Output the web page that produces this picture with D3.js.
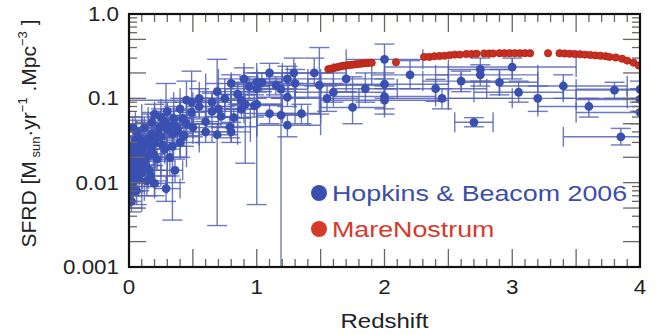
<!DOCTYPE html>
<html><head><meta charset="utf-8">
<script src="https://cdn.jsdelivr.net/npm/d3@7"></script>
<style>body{margin:0;background:#fff} svg{display:block}</style>
</head><body>
<svg id="c" width="670" height="334"></svg>
<script>
// ---------- data ----------
const xTickValues = [0, 1, 2, 3, 4];
const xTickLabels = ["0", "1", "2", "3", "4"];
const yTickValues = [0.001, 0.01, 0.1, 1];
const yTickLabels = ["0.001", "0.01", "0.1", "1.0"];
const legendLabels = ["Hopkins & Beacom 2006", "MareNostrum"];
const xTitle = "Redshift";

// MareNostrum simulation
const mareZ = [1.56,1.58,1.60,1.62,1.64,1.66,1.68,1.70,1.72,1.74,1.76,1.78,1.80,1.82,1.84,1.86,1.88,1.90,
  2.09,2.31,2.35,2.39,2.43,2.47,2.51,2.55,2.59,2.64,2.68,2.72,2.78,2.82,2.85,2.90,2.94,2.98,3.02,3.06,3.10,3.14,
  3.28,3.37,3.41,3.45,3.49,3.53,3.57,3.61,3.65,3.69,3.73,3.76,3.81,3.86,3.90,3.95,3.99];
const mareSfrd = [0.222,0.225,0.228,0.232,0.236,0.240,0.243,0.245,0.248,0.250,0.252,0.254,0.256,0.258,0.260,0.262,0.264,0.265,
  0.268,0.310,0.310,0.315,0.318,0.320,0.325,0.330,0.330,0.335,0.335,0.338,0.340,0.340,0.340,0.343,0.343,0.343,0.343,0.343,0.343,0.343,
  0.343,0.343,0.340,0.338,0.335,0.333,0.330,0.327,0.323,0.320,0.316,0.310,0.305,0.295,0.280,0.265,0.245];

// Hopkins & Beacom 2006 compilation: [z, sfrd, zMin, zMax, sfrdMin, sfrdMax]
const hbPoints = [
  [0.01,0.012,0.00,0.03,0.009,0.016],[0.02,0.016,0.00,0.05,0.012,0.021],[0.02,0.009,0.00,0.04,0.007,0.012],
  [0.03,0.020,0.00,0.10,0.015,0.026],[0.01,0.014,0.00,0.02,0.010,0.019],[0.03,0.010,0.00,0.06,0.007,0.014],
  [0.04,0.013,0.00,0.08,0.010,0.017],[0.05,0.017,0.00,0.10,0.013,0.022],[0.025,0.025,0.00,0.05,0.020,0.030],
  [0.015,0.0075,0.00,0.03,0.005,0.011],[0.05,0.011,0.00,0.10,0.008,0.015],[0.02,0.006,0.00,0.10,0.0045,0.008],
  [0.01,0.019,0.00,0.04,0.008,0.030],[0.04,0.028,0.00,0.12,0.020,0.036],[0.06,0.022,0.00,0.15,0.016,0.030],
  [0.07,0.019,0.02,0.12,0.014,0.025],[0.08,0.015,0.03,0.15,0.011,0.020],[0.10,0.024,0.05,0.15,0.019,0.030],
  [0.12,0.018,0.05,0.20,0.014,0.023],[0.10,0.013,0.00,0.20,0.009,0.018],[0.14,0.028,0.08,0.20,0.022,0.036],
  [0.15,0.021,0.10,0.20,0.016,0.027],[0.15,0.033,0.05,0.25,0.025,0.042],[0.14,0.0105,0.00,0.30,0.007,0.015],
  [0.20,0.0098,0.10,0.30,0.007,0.014],[0.12,0.030,0.05,0.20,0.024,0.037],[0.17,0.025,0.10,0.25,0.019,0.032],
  [0.18,0.038,0.10,0.30,0.030,0.048],[0.20,0.029,0.10,0.30,0.022,0.038],[0.22,0.019,0.15,0.30,0.014,0.025],
  [0.25,0.035,0.20,0.30,0.027,0.045],[0.24,0.045,0.10,0.35,0.035,0.058],[0.34,0.038,0.20,0.50,0.028,0.050],
  [0.38,0.041,0.30,0.45,0.032,0.052],[0.34,0.027,0.20,0.45,0.0036,0.040],[0.36,0.014,0.30,0.42,0.010,0.019],
  [0.29,0.0085,0.20,0.40,0.006,0.012],[0.22,0.037,0.15,0.30,0.029,0.047],[0.30,0.043,0.20,0.40,0.034,0.055],
  [0.38,0.044,0.30,0.50,0.035,0.056],[0.28,0.052,0.20,0.35,0.040,0.065],[0.25,0.060,0.15,0.35,0.045,0.075],
  [0.30,0.070,0.20,0.40,0.055,0.090],[0.08,0.034,0.00,0.20,0.026,0.045],[0.12,0.045,0.00,0.25,0.033,0.060],
  [0.18,0.052,0.05,0.30,0.040,0.068],[0.06,0.040,0.00,0.15,0.030,0.055],[0.28,0.025,0.15,0.40,0.018,0.034],
  [0.40,0.030,0.25,0.55,0.020,0.045],[0.32,0.020,0.20,0.45,0.012,0.030],[0.16,0.014,0.05,0.30,0.010,0.020],
  [0.05,0.032,0.00,0.10,0.025,0.040],[0.09,0.027,0.02,0.18,0.020,0.034],[0.11,0.021,0.05,0.20,0.016,0.028],
  [0.13,0.016,0.05,0.25,0.011,0.022],[0.19,0.022,0.10,0.28,0.016,0.030],[0.21,0.033,0.12,0.30,0.025,0.044],
  [0.26,0.028,0.18,0.35,0.020,0.038],[0.08,0.011,0.00,0.15,0.008,0.015],[0.06,0.008,0.00,0.12,0.0055,0.011],
  [0.17,0.012,0.10,0.25,0.009,0.016],[0.35,0.048,0.25,0.45,0.036,0.062],[0.43,0.036,0.30,0.55,0.027,0.048],
  [0.03,0.045,0.00,0.10,0.035,0.060],[0.20,0.065,0.10,0.30,0.050,0.085],
  [0.45,0.095,0.00,0.90,0.060,0.160],[0.29,0.050,0.15,0.45,0.025,0.150],[0.35,0.058,0.20,0.50,0.040,0.080],
  [0.49,0.068,0.40,0.60,0.050,0.090],[0.60,0.053,0.50,0.70,0.040,0.070],[0.60,0.040,0.40,0.80,0.030,0.050],
  [0.69,0.037,0.55,0.85,0.0031,0.050],[0.72,0.061,0.60,0.85,0.045,0.080],[0.82,0.059,0.70,0.95,0.045,0.075],
  [0.79,0.046,0.60,1.00,0.034,0.060],[0.80,0.040,0.65,0.95,0.030,0.052],[0.45,0.050,0.30,0.60,0.040,0.063],
  [0.42,0.058,0.35,0.50,0.045,0.072],[0.50,0.045,0.40,0.60,0.035,0.057],[0.55,0.080,0.45,0.65,0.060,0.100],
  [0.55,0.100,0.40,0.70,0.080,0.130],[0.65,0.090,0.50,0.80,0.070,0.115],[0.70,0.075,0.60,0.80,0.060,0.095],
  [0.75,0.100,0.60,0.90,0.080,0.130],[0.85,0.112,0.70,1.00,0.085,0.145],[0.88,0.095,0.75,1.00,0.075,0.120],
  [0.88,0.074,0.75,1.00,0.058,0.095],[0.91,0.085,0.80,1.00,0.017,0.110],[0.49,0.090,0.35,0.65,0.050,0.210],
  [0.69,0.120,0.55,0.85,0.070,0.290],[0.80,0.150,0.60,1.00,0.110,0.190],[0.90,0.170,0.70,1.20,0.120,0.230],
  [0.65,0.070,0.45,0.85,0.050,0.100],[0.40,0.075,0.25,0.55,0.055,0.100],
  [1.24,0.170,1.00,1.50,0.120,0.240],[1.29,0.200,1.00,1.60,0.150,0.300],[1.49,0.143,1.00,2.00,0.065,0.400],
  [1.60,0.118,1.30,2.00,0.090,0.150],[1.75,0.078,1.50,2.00,0.050,0.180],[1.24,0.103,1.00,1.50,0.080,0.130],
  [1.24,0.048,1.00,1.50,0.035,0.065],[1.35,0.066,1.20,1.50,0.050,0.085],[1.10,0.066,0.90,1.30,0.050,0.085],
  [1.15,0.143,1.00,1.30,0.110,0.180],[1.19,0.128,1.00,1.40,0.100,0.160],[1.00,0.155,0.80,1.20,0.120,0.200],
  [1.04,0.155,0.90,1.20,0.120,0.200],[1.00,0.130,0.75,1.25,0.100,0.165],[0.94,0.138,0.80,1.10,0.100,0.180],
  [0.98,0.082,0.80,1.20,0.060,0.110],[1.00,0.085,0.80,1.20,0.0055,0.120],[1.19,0.063,1.00,1.40,0.0009,0.100],
  [1.45,0.200,1.20,1.70,0.140,0.300],[1.70,0.170,1.40,2.00,0.120,0.250],[1.85,0.130,1.60,2.10,0.090,0.200],
  [1.55,0.100,1.30,1.80,0.070,0.140],[1.30,0.150,1.10,1.50,0.100,0.220],[1.10,0.200,0.90,1.30,0.150,0.260],
  [2.00,0.290,1.70,2.30,0.170,0.440],[2.00,0.147,1.50,2.50,0.100,0.200],[2.00,0.105,1.60,2.40,0.075,0.140],
  [2.00,0.095,1.50,2.50,0.065,0.130],[2.20,0.190,1.90,2.50,0.130,0.280],[2.40,0.130,2.00,2.80,0.092,0.168],
  [2.75,0.220,2.50,3.00,0.160,0.300],[2.75,0.190,2.40,3.20,0.140,0.250],[2.90,0.155,2.60,3.20,0.110,0.220],
  [3.00,0.235,2.00,3.50,0.170,0.300],[3.05,0.118,2.70,3.40,0.090,0.160],[2.70,0.052,2.55,2.85,0.046,0.059],
  [3.80,0.125,3.40,4.20,0.100,0.155],[3.85,0.035,3.40,4.30,0.028,0.044],[4.00,0.128,3.50,4.50,0.100,0.160],
  [4.00,0.097,3.50,4.50,0.070,0.130],[4.00,0.068,3.50,4.50,0.050,0.090],[3.20,0.100,2.50,3.90,0.070,0.140],
  [2.60,0.160,2.30,2.90,0.120,0.210],[3.40,0.140,2.90,3.90,0.100,0.190],[2.45,0.100,2.00,3.00,0.075,0.130],
  [3.60,0.080,3.20,4.00,0.060,0.100]
];

// ---------- layout ----------
const svg = d3.select("#c");
const x = d3.scaleLinear().domain([0, 4]).range([129, 640]);
const y = d3.scaleLog().domain([0.001, 1]).range([267, 14]);
const X0 = x.range()[0], X1 = x.range()[1], Y0 = y.range()[0], Y1 = y.range()[1];

const blue = "#3a50b0", barBlue = "#5361b6", red = "#c92f20";
const font = "'Liberation Sans', Arial, Helvetica, sans-serif";

svg.append("defs").append("clipPath").attr("id", "clip")
  .append("rect").attr("x", X0).attr("y", Y1).attr("width", X1 - X0).attr("height", Y0 - Y1);

const plot = svg.append("g").attr("clip-path", "url(#clip)");

// error bars
const cap = 10;
const eb = plot.append("g").attr("stroke", barBlue).attr("stroke-width", 1.4).attr("stroke-opacity", 0.85).attr("fill", "none");
hbPoints.forEach(p => {
  const [z, v, z0, z1, v0, v1] = p;
  const cx = x(z), cy = y(v);
  eb.append("line").attr("x1", x(z0)).attr("x2", x(z1)).attr("y1", cy).attr("y2", cy);
  eb.append("line").attr("x1", x(z0)).attr("x2", x(z0)).attr("y1", cy - cap).attr("y2", cy + cap);
  eb.append("line").attr("x1", x(z1)).attr("x2", x(z1)).attr("y1", cy - cap).attr("y2", cy + cap);
  eb.append("line").attr("x1", cx).attr("x2", cx).attr("y1", y(v0)).attr("y2", y(v1));
  eb.append("line").attr("x1", cx - cap).attr("x2", cx + cap).attr("y1", y(v0)).attr("y2", y(v0));
  eb.append("line").attr("x1", cx - cap).attr("x2", cx + cap).attr("y1", y(v1)).attr("y2", y(v1));
});
plot.append("g").selectAll("circle").data(hbPoints).join("circle")
  .attr("cx", d => x(d[0])).attr("cy", d => y(d[1])).attr("r", 4.4).attr("fill", blue);

plot.append("g").selectAll("circle").data(mareZ).join("circle")
  .attr("cx", (d) => x(d)).attr("cy", (d, i) => y(mareSfrd[i])).attr("r", 3.7)
  .attr("fill", red).attr("stroke", "#a51e12").attr("stroke-width", 0.6);

// ---------- ticks ----------
const tickCol = "#6a6660";
const tk = svg.append("g").attr("stroke", tickCol).attr("stroke-width", 1.3);
d3.range(0, 4.001, 0.1).forEach(v => {
  const major = Math.abs(v * 2 - Math.round(v * 2)) < 1e-6;
  const L = major ? 18 : 8;
  tk.append("line").attr("x1", x(v)).attr("x2", x(v)).attr("y1", Y0).attr("y2", Y0 - L);
  tk.append("line").attr("x1", x(v)).attr("x2", x(v)).attr("y1", Y1).attr("y2", Y1 + L);
});
[0.001, 0.01, 0.1].forEach(dec => {
  d3.range(1, 10).forEach(m => {
    const v = dec * m;
    const L = (m === 1 || m === 2 || m === 5) ? 17 : 8;
    tk.append("line").attr("y1", y(v)).attr("y2", y(v)).attr("x1", X0).attr("x2", X0 + L);
    tk.append("line").attr("y1", y(v)).attr("y2", y(v)).attr("x1", X1).attr("x2", X1 - L);
  });
});

// frame
svg.append("rect").attr("x", X0).attr("y", Y1).attr("width", X1 - X0).attr("height", Y0 - Y1)
  .attr("fill", "none").attr("stroke", "#111").attr("stroke-width", 2.2);

// ---------- tick labels ----------
const lab = svg.append("g").attr("font-family", font).attr("font-size", 20).attr("fill", "#222");
xTickValues.forEach((v, i) => {
  lab.append("text").attr("transform", `translate(${x(v)},${Y0 + 27}) scale(1.12,1)`)
    .attr("text-anchor", "middle").text(xTickLabels[i]);
});
yTickValues.forEach((v, i) => {
  lab.append("text").attr("transform", `translate(${X0 - 10},${y(v) + 7}) scale(1.12,1)`)
    .attr("text-anchor", "end").text(yTickLabels[i]);
});

// axis titles
svg.append("text").attr("transform", `translate(${(X0 + X1) / 2},${Y0 + 61}) scale(1.2,1)`)
  .attr("text-anchor", "middle").attr("font-family", font).attr("font-size", 20).attr("fill", "#222").text(xTitle);

const yt = svg.append("text").attr("transform", `translate(36,${(Y0 + Y1) / 2 - 7}) rotate(-90)`)
  .attr("text-anchor", "middle").attr("font-family", font).attr("font-size", 21).attr("fill", "#222");
yt.append("tspan").text("SFRD [M");
yt.append("tspan").attr("font-size", 13).attr("dy", 4).text(" sun");
yt.append("tspan").attr("dy", -4).text("·yr");
yt.append("tspan").attr("font-size", 13).attr("dy", -9).text("−1");
yt.append("tspan").attr("dy", 9).text(" .Mpc");
yt.append("tspan").attr("font-size", 13).attr("dy", -9).text("−3");
yt.append("tspan").attr("dy", 9).text(" ]");

// ---------- legend ----------
const legColors = [blue, "#d63a2a"];
legendLabels.forEach((t, i) => {
  const ly = 193 + i * 36;
  svg.append("circle").attr("cx", 319).attr("cy", ly).attr("r", 8).attr("fill", legColors[i]);
  svg.append("text").attr("transform", `translate(332,${ly + 8}) scale(1.22,1)`)
    .attr("font-family", font).attr("font-size", 22).attr("fill", i === 0 ? "#3b4ea8" : "#d63a2a").text(t);
});
</script>
</body></html>
